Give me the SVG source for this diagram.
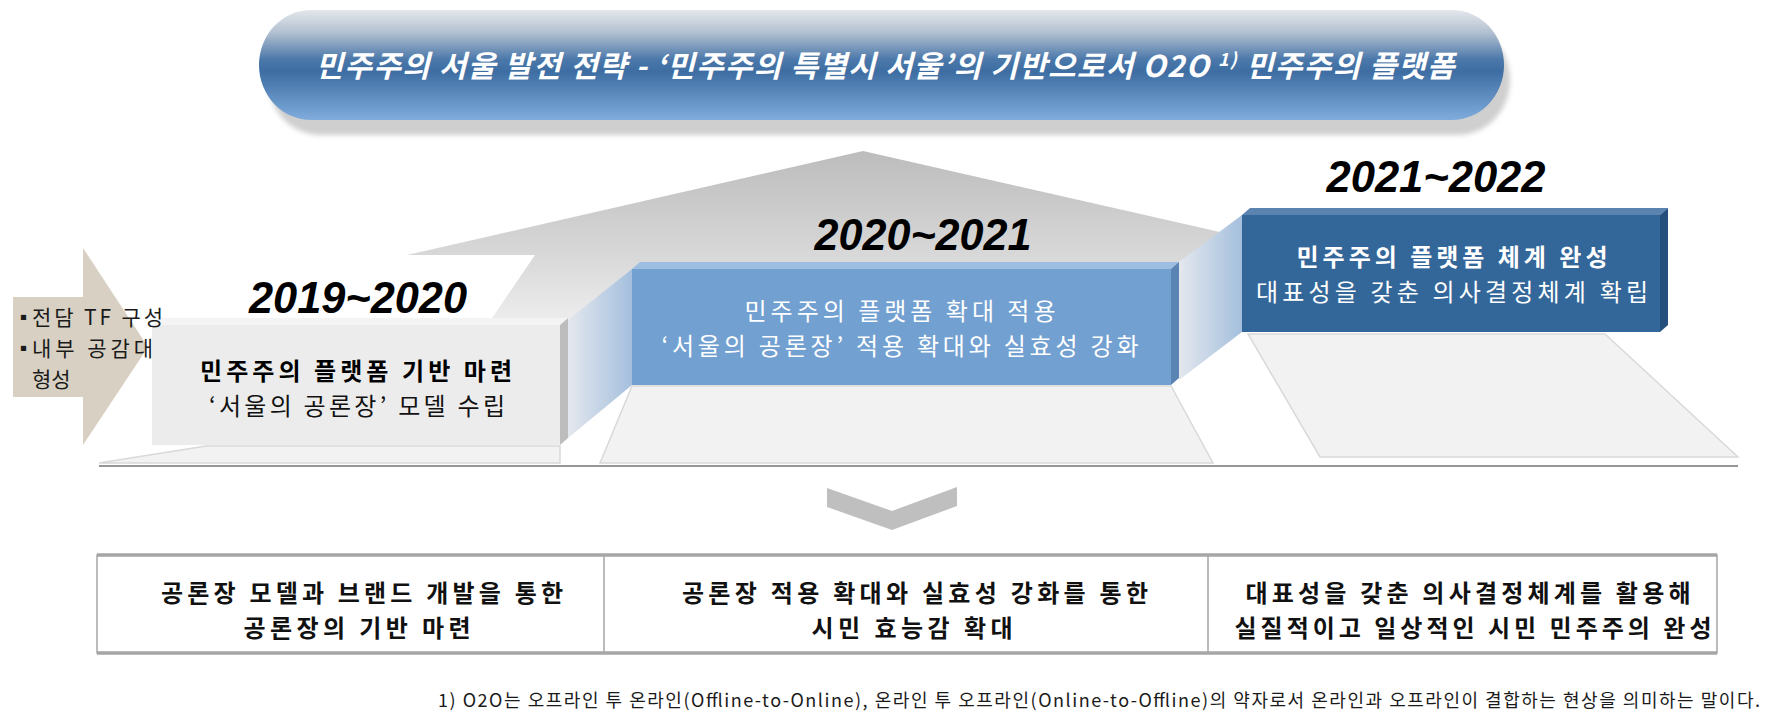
<svg xmlns="http://www.w3.org/2000/svg" width="1780" height="723" viewBox="0 0 1780 723">
<defs>
  <linearGradient id="pillGrad" x1="0" y1="0" x2="0" y2="1">
    <stop offset="0" stop-color="#e4e7eb"/>
    <stop offset="0.2" stop-color="#b4c1d1"/>
    <stop offset="0.45" stop-color="#4b78aa"/>
    <stop offset="0.56" stop-color="#3d6da2"/>
    <stop offset="1" stop-color="#80acdd"/>
  </linearGradient>
  <linearGradient id="houseGrad" gradientUnits="userSpaceOnUse" x1="0" y1="151" x2="0" y2="340">
    <stop offset="0" stop-color="#bcbcbc"/>
    <stop offset="0.55" stop-color="#d8d8d8"/>
    <stop offset="1" stop-color="#f3f3f3"/>
  </linearGradient>
  <linearGradient id="connGrad" x1="0" y1="0" x2="1" y2="0">
    <stop offset="0" stop-color="#e4e8ee"/>
    <stop offset="1" stop-color="#a4bfdd"/>
  </linearGradient>
  <filter id="soft" x="-5%" y="-20%" width="110%" height="140%">
    <feGaussianBlur stdDeviation="2.5"/>
  </filter>
</defs>
<style>
  .kr { font-family: "Noto Sans CJK KR", "Noto Sans", sans-serif; }
  .yr { font-family: "Liberation Sans", Arial, sans-serif; font-weight: bold; font-style: italic; font-size: 44px; fill: #000; text-anchor: middle; }
  .floor { fill: #f2f2f2; stroke: #d9d9d9; stroke-width: 1.5; }
  .mid { text-anchor: middle; }
  .boxtxt { font-size: 24px; }
  .tbl { font-size: 24px; font-weight: bold; fill: #111; text-anchor: middle; }
  .cell { fill: none; stroke: #a6a6a6; stroke-width: 1.5; }
</style>
<rect x="0" y="0" width="1780" height="723" fill="#ffffff"/>

<g id="title">
  <rect x="268" y="25" width="1242" height="110" rx="52" ry="55" fill="#cfcfcf" filter="url(#soft)"/>
  <rect x="259" y="10" width="1245" height="110" rx="52" ry="55" fill="url(#pillGrad)"/>
  <text class="kr" x="885" y="77" font-size="30" font-weight="bold" font-style="italic" fill="#ffffff" text-anchor="middle" textLength="1139" lengthAdjust="spacing">민주주의 서울 발전 전략 - ‘민주주의 특별시 서울’의 기반으로서 O2O <tspan font-size="18" dy="-11">1)</tspan><tspan dy="11"> 민주주의 플랫폼</tspan></text>
</g>

<g id="backdrop">
  <polygon points="407,255 863,151 1242,237 1242,332 632,385 568,438 568,318 492,318 535,255" fill="url(#houseGrad)"/>
  <polygon class="floor" points="206,446 560,446 560,463 99,463"/>
  <polygon class="floor" points="632,386 1171,386 1213,463 600,463"/>
  <polygon class="floor" points="1248,334 1605,334 1738,457 1320,457"/>
  <line x1="99" y1="466" x2="1738" y2="466" stroke="#969696" stroke-width="2"/>
</g>

<g id="connectors">
  <polygon points="568,320 632,269 632,385 568,438" fill="url(#connGrad)"/>
  <polygon points="1179,262 1242,215 1242,332 1179,380" fill="url(#connGrad)"/>
  <polygon points="827,488 892,511 957,487 957,506 892,530 827,507" fill="#bfbfbf"/>
</g>

<g id="stage-2019">
  <text class="yr" x="358" y="313" textLength="218" lengthAdjust="spacingAndGlyphs">2019~2020</text>
  <rect x="152" y="325" width="408" height="120" fill="#ececec"/>
  <polygon points="152,325 160,318 568,318 560,325" fill="#f4f4f4"/>
  <polygon points="560,325 568,318 568,438 560,445" fill="#bdbdbd"/>
  <text class="kr boxtxt mid" fill="#000"><tspan x="356" y="380" font-weight="bold" textLength="312" lengthAdjust="spacing">민주주의 플랫폼 기반 마련</tspan><tspan x="357" y="415" fill="#111" textLength="296" lengthAdjust="spacing">‘서울의 공론장’ 모델 수립</tspan></text>
</g>

<g id="prep">
  <polygon points="13,297 83,297 83,248 148,347 83,445 83,397 13,397" fill="#d8d1c3"/>
  <text class="kr" font-size="21" fill="#1a1a1a"><tspan x="14" y="325" font-size="19">▪</tspan><tspan x="32" y="325" textLength="131" lengthAdjust="spacing">전담 TF 구성</tspan><tspan x="14" y="356" font-size="19">▪</tspan><tspan x="32" y="356" textLength="121" lengthAdjust="spacing">내부 공감대</tspan><tspan x="32" y="387">형성</tspan></text>
</g>

<g id="stage-2020">
  <text class="yr" x="923" y="250" textLength="217" lengthAdjust="spacingAndGlyphs">2020~2021</text>
  <rect x="632" y="269" width="539" height="116" fill="#72a0d0"/>
  <polygon points="632,269 640,262 1179,262 1171,269" fill="#9dbde1"/>
  <polygon points="1171,269 1179,262 1179,378 1171,385" fill="#5a84b3"/>
  <text class="kr boxtxt mid" fill="#ffffff"><tspan x="900" y="320" textLength="311" lengthAdjust="spacing">민주주의 플랫폼 확대 적용</tspan><tspan x="900" y="355" textLength="477" lengthAdjust="spacing">‘서울의 공론장’ 적용 확대와 실효성 강화</tspan></text>
</g>

<g id="stage-2021">
  <text class="yr" x="1436" y="192" textLength="219" lengthAdjust="spacingAndGlyphs">2021~2022</text>
  <rect x="1242" y="215" width="418" height="117" fill="#346799"/>
  <polygon points="1242,215 1250,208 1668,208 1660,215" fill="#5a83b0"/>
  <polygon points="1660,215 1668,208 1668,325 1660,332" fill="#244f7c"/>
  <text class="kr boxtxt mid" fill="#ffffff"><tspan x="1452" y="266" font-weight="bold" textLength="311" lengthAdjust="spacing">민주주의 플랫폼 체계 완성</tspan><tspan x="1452" y="301" textLength="392" lengthAdjust="spacing">대표성을 갖춘 의사결정체계 확립</tspan></text>
</g>

<g id="outcomes">
  <rect class="cell" x="97" y="555" width="1620" height="98"/>
  <line x1="97" y1="555" x2="1717" y2="555" stroke="#a6a6a6" stroke-width="3.5"/>
  <line x1="97" y1="653" x2="1717" y2="653" stroke="#a6a6a6" stroke-width="3.5"/>
  <line x1="604" y1="555" x2="604" y2="653" stroke="#a6a6a6" stroke-width="1.5"/>
  <line x1="1208" y1="555" x2="1208" y2="653" stroke="#a6a6a6" stroke-width="1.5"/>
  <g id="outcome-1">
    <text class="kr tbl"><tspan x="362" y="602" textLength="402" lengthAdjust="spacing">공론장 모델과 브랜드 개발을 통한</tspan><tspan x="357" y="637" textLength="227" lengthAdjust="spacing">공론장의 기반 마련</tspan></text>
  </g>
  <g id="outcome-2">
    <text class="kr tbl"><tspan x="915" y="602" textLength="466" lengthAdjust="spacing">공론장 적용 확대와 실효성 강화를 통한</tspan><tspan x="912" y="637" textLength="201" lengthAdjust="spacing">시민 효능감 확대</tspan></text>
  </g>
  <g id="outcome-3">
    <text class="kr tbl"><tspan x="1468" y="602" textLength="445" lengthAdjust="spacing">대표성을 갖춘 의사결정체계를 활용해</tspan><tspan x="1473" y="637" textLength="477" lengthAdjust="spacing">실질적이고 일상적인 시민 민주주의 완성</tspan></text>
  </g>
</g>

<g id="footnote">
  <text class="kr" x="1760" y="707" font-size="18" fill="#1a1a1a" text-anchor="end" textLength="1322" lengthAdjust="spacing">1) O2O는 오프라인 투 온라인(Offline-to-Online), 온라인 투 오프라인(Online-to-Offline)의 약자로서 온라인과 오프라인이 결합하는 현상을 의미하는 말이다.</text>
</g>
</svg>
